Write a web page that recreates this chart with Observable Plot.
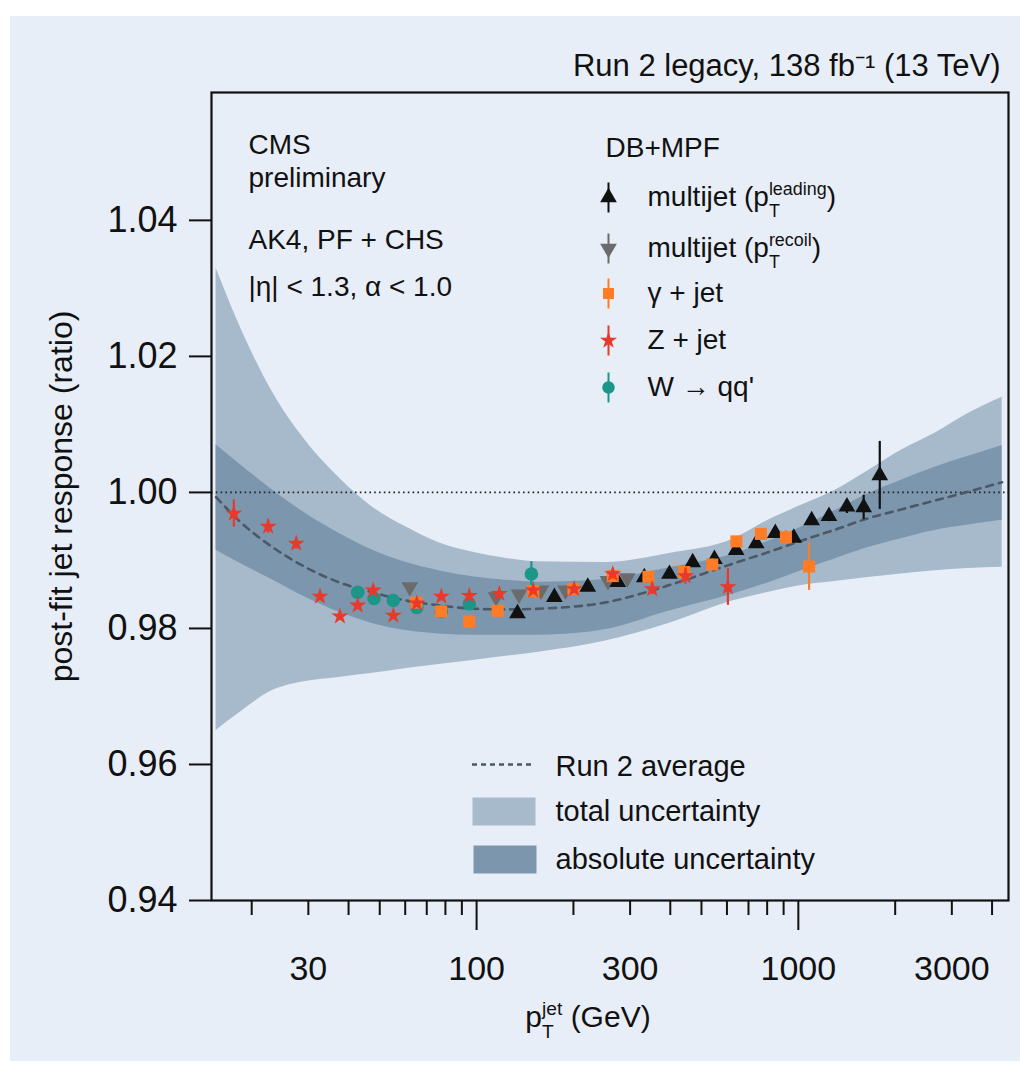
<!DOCTYPE html>
<html><head><meta charset="utf-8">
<script src="https://cdn.jsdelivr.net/npm/d3@7"></script>
<script src="https://cdn.jsdelivr.net/npm/@observablehq/plot@0.6"></script>
<style>
html,body{margin:0;padding:0;background:#fff;}
#bg{position:absolute;left:10px;top:16px;width:1010px;height:1045px;background:#e8eef7;}
#chart{position:absolute;left:0;top:0;}
</style></head><body>
<div id="bg"></div><div id="chart"></div>
<script>
// ---- Uncertainty bands and Run 2 average ----
const bandPt   = [15.5, 18.2, 23.3, 29.4, 37.3, 47.6, 60.4, 76.4, 97.5, 123.5, 156, 250, 393, 632, 805, 1021, 1297, 1648, 2089, 2655, 3372, 4300];
const totalHi  = [1.0330, 1.0249, 1.0146, 1.0076, 1.0022, 0.9978, 0.9949, 0.9926, 0.9912, 0.9903, 0.9898, 0.9897, 0.9910, 0.9932, 0.9959, 0.9981, 1.0003, 1.0032, 1.0062, 1.0087, 1.0116, 1.0140];
const totalLo  = [0.9650, 0.9675, 0.9709, 0.9722, 0.9728, 0.9734, 0.9741, 0.9747, 0.9753, 0.9759, 0.9765, 0.9781, 0.9807, 0.9841, 0.9853, 0.9863, 0.9869, 0.9875, 0.9880, 0.9885, 0.9888, 0.9890];
const absHi    = [1.0070, 1.0043, 1.0003, 0.9969, 0.9940, 0.9915, 0.9897, 0.9885, 0.9876, 0.9871, 0.9868, 0.9872, 0.9889, 0.9910, 0.9928, 0.9949, 0.9973, 0.9998, 1.0018, 1.0037, 1.0053, 1.0069];
const absLo    = [0.9915, 0.9897, 0.9871, 0.9846, 0.9824, 0.9807, 0.9797, 0.9792, 0.9790, 0.9790, 0.9790, 0.9798, 0.9825, 0.9851, 0.9867, 0.9885, 0.9902, 0.9919, 0.9932, 0.9944, 0.9952, 0.9959];
const run2Avg  = [0.9993, 0.9959, 0.9919, 0.9890, 0.9868, 0.9853, 0.9841, 0.9834, 0.9829, 0.9828, 0.9829, 0.9838, 0.9863, 0.9896, 0.9912, 0.9929, 0.9945, 0.9962, 0.9975, 0.9988, 1.0001, 1.0015];

// ---- Data points ----
const leadPt  = [134, 174.5, 221.6, 274.7, 332, 397.5, 469.5, 548.5, 641, 740, 848, 968, 1100, 1245, 1416, 1596, 1791];
const leadR   = [0.9822, 0.9846, 0.9861, 0.9868, 0.9875, 0.9880, 0.9897, 0.9902, 0.9915, 0.9925, 0.9940, 0.9933, 0.9959, 0.9965, 0.9979, 0.9978, 1.0025];
const leadE   = [0.0005, 0.0004, 0.0004, 0.0004, 0.0004, 0.0004, 0.0004, 0.0004, 0.0005, 0.0005, 0.0006, 0.0006, 0.0007, 0.0008, 0.0010, 0.0018, 0.0050];

const recoilPt = [62, 115, 135.5, 158.5, 189, 256, 294];
const recoilR  = [0.9861, 0.9846, 0.9850, 0.9856, 0.9856, 0.9870, 0.9874];
const recoilE  = [0.0005, 0.0004, 0.0004, 0.0004, 0.0004, 0.0004, 0.0004];

const gammaPt = [65, 77.6, 94.9, 116.3, 150, 200, 265, 342, 442, 540, 642, 765, 915, 1080];
const gammaR  = [0.9838, 0.9825, 0.9810, 0.9826, 0.9855, 0.9858, 0.9877, 0.9876, 0.9883, 0.9894, 0.9928, 0.9939, 0.9934, 0.9891];
const gammaE  = [0.0006, 0.0006, 0.0005, 0.0005, 0.0005, 0.0005, 0.0005, 0.0005, 0.0006, 0.0008, 0.0007, 0.0008, 0.0010, 0.0035];

const zPt = [17.6, 22.5, 27.5, 32.6, 37.6, 42.7, 47.7, 55.1, 65.2, 77.7, 94.9, 117.7, 150, 201, 265, 351.5, 446, 604];
const zR  = [0.9969, 0.9950, 0.9925, 0.9847, 0.9818, 0.9834, 0.9856, 0.9819, 0.9837, 0.9847, 0.9848, 0.9851, 0.9856, 0.9858, 0.9880, 0.9858, 0.9877, 0.9861];
const zE  = [0.0020, 0.0010, 0.0008, 0.0006, 0.0006, 0.0005, 0.0005, 0.0005, 0.0005, 0.0005, 0.0005, 0.0005, 0.0005, 0.0006, 0.0007, 0.0008, 0.0012, 0.0027];

const wPt = [42.7, 48, 55.1, 65.2, 77.7, 94.9, 148];
const wR  = [0.9853, 0.9844, 0.9841, 0.9831, 0.9825, 0.9836, 0.9880];
const wE  = [0.0005, 0.0005, 0.0005, 0.0005, 0.0005, 0.0006, 0.0018];

// ---- Labels / ticks ----
const yTicks = [0.94, 0.96, 0.98, 1.00, 1.02, 1.04];
const xLabelTicks = [30, 100, 300, 1000, 3000];
const xMajorTicks = [100, 1000];
const xMinorTicks = [20, 30, 40, 50, 60, 70, 80, 90, 200, 300, 400, 500, 600, 700, 800, 900, 2000, 3000, 4000];
const seriesNames = ["multijet (p_T^leading)", "multijet (p_T^recoil)", "γ + jet", "Z + jet", "W → qq'"];
const cmsLines = ["CMS", "preliminary", "AK4, PF + CHS", "|η| < 1.3, α < 1.0"];
const bandNames = ["Run 2 average", "total uncertainty", "absolute uncertainty"];
const topTitle = "Run 2 legacy, 138 fb⁻¹ (13 TeV)";
const yTitle = "post-fit jet response (ratio)";
const xTitle = "p_T^jet (GeV)";

// ---- Styles ----
const C = {lead: "#111111", recoil: "#6b6b6b", gamma: "#ff7b25", z: "#e8392b", w: "#1b9688",
           total: "#a7bacb", abs: "#7c97ad", avg: "#4c5866"};

const band = bandPt.map((pt, i) => ({pt, tHi: totalHi[i], tLo: totalLo[i], aHi: absHi[i], aLo: absLo[i], avg: run2Avg[i]}));
const tbl = (p, r, e) => p.map((pt, i) => ({pt, r: r[i], e: e[i]}));
const lead = tbl(leadPt, leadR, leadE), recoil = tbl(recoilPt, recoilR, recoilE),
      gamma = tbl(gammaPt, gammaR, gammaE), zjet = tbl(zPt, zR, zE), wqq = tbl(wPt, wR, wE);

const errBars = (d, col) => Plot.ruleX(d, {x: "pt", y1: v => v.r - v.e, y2: v => v.r + v.e, stroke: col, strokeWidth: 2.2});

const vline = {draw(c) { c.moveTo(0, -15); c.lineTo(0, 15); }};
const boxSym = {draw(c) { c.rect(-31.5, -14, 63, 28); }};
const dashSym = {draw(c) { c.moveTo(-31, 0); c.lineTo(31, 0); }};

const FS = 28;
const R = {tri: 6.2, sq: 6.8, star: 5.4, circ: 6.8};
const legendY = [105, 156, 201, 248, 295];
const legendSym = [
  {symbol: "triangle", fill: C.lead, r: R.tri},
  {symbol: "triangle", fill: C.recoil, r: R.tri, rotate: 180},
  {symbol: "square", fill: C.gamma, r: 6.2},
  {symbol: "star", fill: C.z, r: R.star},
  {symbol: "circle", fill: C.w, r: 6.2}
];
const legendCols = [C.lead, C.recoil, C.gamma, C.z, C.w];

const marks = [
  Plot.areaY(band, {x: "pt", y1: "tLo", y2: "tHi", fill: C.total, curve: "monotone-x"}),
  Plot.areaY(band, {x: "pt", y1: "aLo", y2: "aHi", fill: C.abs, curve: "monotone-x"}),
  Plot.ruleY([1.0], {stroke: "#222", strokeWidth: 1.6, strokeDasharray: "1.6,3.2"}),
  Plot.line(band, {x: "pt", y: "avg", stroke: C.avg, strokeWidth: 2.6, strokeDasharray: "7,6", curve: "monotone-x"}),
  // data
  errBars(recoil, C.recoil),
  Plot.dot(recoil, {x: "pt", y: "r", symbol: "triangle", rotate: 180, fill: C.recoil, r: R.tri}),
  errBars(lead, C.lead),
  Plot.dot(lead, {x: "pt", y: "r", symbol: "triangle", fill: C.lead, r: R.tri}),
  errBars(wqq, C.w),
  Plot.dot(wqq, {x: "pt", y: "r", symbol: "circle", fill: C.w, r: R.circ}),
  errBars(gamma, C.gamma),
  Plot.dot(gamma, {x: "pt", y: "r", symbol: "square", fill: C.gamma, r: R.sq}),
  errBars(zjet, C.z),
  Plot.dot(zjet, {x: "pt", y: "r", symbol: "star", fill: C.z, r: R.star}),
  // axes
  Plot.axisY({ticks: yTicks, tickSize: 22, tickPadding: 12, tickFormat: d => d.toFixed(2), fontSize: 36, label: null, strokeWidth: 2, color: "#111"}),
  Plot.axisX({ticks: xMinorTicks, tickSize: 15, tickFormat: () => "", label: null, strokeWidth: 2}),
  Plot.axisX({ticks: xMajorTicks, tickSize: 30, tickFormat: () => "", label: null, strokeWidth: 2}),
  Plot.axisX({ticks: xLabelTicks, tickSize: 0, tickPadding: 55, tickFormat: d => String(d), fontSize: 34, label: null}),
  Plot.frame({stroke: "#111", strokeWidth: 2.2}),
  // titles
  Plot.text([topTitle], {text: d => d, frameAnchor: "top-right", textAnchor: "end", lineAnchor: "middle", dx: -8, dy: -26, fontSize: 31, fill: "#111"}),
  Plot.text([yTitle], {text: d => d, frameAnchor: "left", rotate: -90, textAnchor: "middle", lineAnchor: "middle", dx: -150, fontSize: 32, fill: "#111"}),
  Plot.text([xTitle], {text: d => d, frameAnchor: "bottom", textAnchor: "middle", lineAnchor: "middle", dx: -22, dy: 117, fontSize: 30, fill: "#111"}),
  // CMS text block
  ...cmsLines.map((t, i) => Plot.text([t], {text: d => d, frameAnchor: "top-left", textAnchor: "start", lineAnchor: "middle", dx: 37, dy: [53, 86, 148, 195][i], fontSize: FS, fill: "#111"})),
  // data legend
  Plot.text(["DB+MPF"], {text: d => d, frameAnchor: "top-left", textAnchor: "start", lineAnchor: "middle", dx: 394, dy: 56, fontSize: FS, fill: "#111"}),
  ...seriesNames.flatMap((t, i) => [
    Plot.dot([t], {frameAnchor: "top-left", dx: 397, dy: legendY[i], symbol: vline, stroke: legendCols[i], strokeWidth: 2, fill: "none"}),
    Plot.dot([t], {frameAnchor: "top-left", dx: 397, dy: legendY[i], ...legendSym[i]}),
    Plot.text([t], {text: d => d, frameAnchor: "top-left", textAnchor: "start", lineAnchor: "middle", dx: 436, dy: legendY[i], fontSize: FS, fill: "#111"})
  ]),
  // band legend
  Plot.dot([bandNames[0]], {frameAnchor: "top-left", dx: 291.5, dy: 672, symbol: dashSym, stroke: C.avg, strokeWidth: 2.4, strokeDasharray: "5,4", fill: "none"}),
  Plot.dot([bandNames[1]], {frameAnchor: "top-left", dx: 292.5, dy: 719, symbol: boxSym, fill: C.total, stroke: "none"}),
  Plot.dot([bandNames[2]], {frameAnchor: "top-left", dx: 293.5, dy: 767, symbol: boxSym, fill: C.abs, stroke: "none"}),
  ...bandNames.map((t, i) => Plot.text([t], {text: d => d, frameAnchor: "top-left", textAnchor: "start", lineAnchor: "middle", dx: 344, dy: [674, 719, 767][i], fontSize: 29, fill: "#111"}))
];

const svg = Plot.plot({
  width: 1020, height: 1073,
  marginLeft: 211, marginRight: 12, marginTop: 92, marginBottom: 173,
  x: {type: "log", domain: [15, 4500]},
  y: {domain: [0.94, 1.0588]},
  style: {background: "transparent", fontFamily: "'Liberation Sans', Arimo, Arial, sans-serif", color: "#111", overflow: "visible"},
  marks
});
document.getElementById("chart").appendChild(svg);

// stacked sub/superscripts (p_T^xxx)
(function richify(root) {
  const ns = "http://www.w3.org/2000/svg";
  root.querySelectorAll("text").forEach(el => {
    const m = el.textContent.match(/^(.*?)_(\w+)\^(\w+)(.*)$/);
    if (!m) return;
    const fs = parseFloat(getComputedStyle(el).fontSize) || FS;
    const [, pre, sub, sup, post] = m;
    while (el.firstChild) el.removeChild(el.firstChild);
    const mk = (txt, attrs) => { const t = document.createElementNS(ns, "tspan"); t.textContent = txt; for (const k in attrs) t.setAttribute(k, attrs[k]); el.appendChild(t); return t; };
    mk(pre, {});
    const small = fs * 0.64, up = fs * 0.42, down = fs * 0.36;
    const a = mk(sup, {"font-size": small, dy: -up});
    const wa = a.getComputedTextLength();
    const b = mk(sub, {"font-size": small, dx: -wa, dy: up + down});
    const wb = b.getComputedTextLength();
    mk(post.replace(/^ /, "\u00a0"), {dx: Math.max(0, wa - wb), dy: -down});
  });
})(svg);
</script></body></html>
